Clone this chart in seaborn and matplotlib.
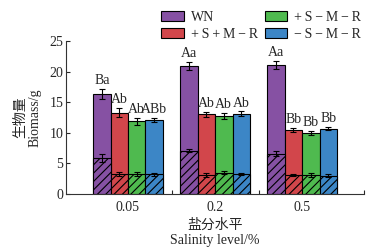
import matplotlib
matplotlib.use("Agg")
import matplotlib.pyplot as plt
import seaborn as sns
import pandas as pd
import numpy as np

salinity = ["0.05", "0.2", "0.5"]
treatments = ["WN", "+\u2009S\u2009+\u2009M\u2009−\u2009R", "+\u2009S\u2009−\u2009M\u2009−\u2009R", "−\u2009S\u2009−\u2009M\u2009−\u2009R"]
colors = ["#8651a3", "#d2464b", "#4fba4f", "#3c86c6"]

# total biomass per treatment for each salinity
total_wn = [16.4, 20.9, 21.1]
total_ssmr = [13.3, 13.0, 10.5]
total_smr = [11.9, 12.7, 10.0]
total_nsmr = [12.1, 13.1, 10.7]
total_err_wn = [0.8, 0.7, 0.6]
total_err_ssmr = [0.7, 0.4, 0.3]
total_err_smr = [0.6, 0.5, 0.3]
total_err_nsmr = [0.4, 0.4, 0.3]

# hatched (lower) portion
low_wn = [5.9, 7.1, 6.6]
low_ssmr = [3.3, 3.1, 3.1]
low_smr = [3.3, 3.5, 3.1]
low_nsmr = [3.2, 3.3, 3.0]
low_err_wn = [0.6, 0.3, 0.4]
low_err_ssmr = [0.3, 0.3, 0.2]
low_err_smr = [0.3, 0.3, 0.3]
low_err_nsmr = [0.2, 0.2, 0.3]

letters_wn = ["Ba", "Aa", "Aa"]
letters_ssmr = ["Ab", "Ab", "Bb"]
letters_smr = ["Ab", "Ab", "Bb"]
letters_nsmr = ["ABb", "Ab", "Bb"]

totals = [total_wn, total_ssmr, total_smr, total_nsmr]
total_errs = [total_err_wn, total_err_ssmr, total_err_smr, total_err_nsmr]
lows = [low_wn, low_ssmr, low_smr, low_nsmr]
low_errs = [low_err_wn, low_err_ssmr, low_err_smr, low_err_nsmr]
letters = [letters_wn, letters_ssmr, letters_smr, letters_nsmr]

rows = []
for t, tot, lo in zip(treatments, totals, lows):
    for s, a, b in zip(salinity, tot, lo):
        rows.append({"salinity": s, "treatment": t, "total": a, "low": b})
df = pd.DataFrame(rows)

sns.set_style("ticks")
plt.rcParams["font.family"] = ["Liberation Serif", "DejaVu Sans", "Noto Sans CJK SC"]
plt.rcParams["hatch.linewidth"] = 0.8

fig = plt.figure(figsize=(3.8, 2.5), dpi=100)
ax = fig.add_axes([0.174, 0.224, 0.784, 0.612])

pal = dict(zip(treatments, colors))
sns.barplot(data=df, x="salinity", y="total", hue="treatment", hue_order=treatments,
            order=salinity, palette=pal, edgecolor="black", linewidth=0.8,
            width=0.8, gap=0, ax=ax, errorbar=None, saturation=1)
sns.barplot(data=df, x="salinity", y="low", hue="treatment", hue_order=treatments,
            order=salinity, palette=pal, edgecolor="black", linewidth=0.8,
            width=0.8, gap=0, ax=ax, errorbar=None, saturation=1, legend=False)

conts = ax.containers
top_conts = conts[:4]
low_conts = conts[4:8]
for c in low_conts:
    for p in c:
        p.set_hatch("////")

for i, c in enumerate(top_conts):
    for j, p in enumerate(c):
        xc = p.get_x() + p.get_width() / 2
        ax.errorbar(xc, totals[i][j], yerr=total_errs[i][j], fmt="none",
                    ecolor="black", elinewidth=0.8, capsize=2.5, capthick=0.8, zorder=5)
        ax.text(xc, totals[i][j] + total_errs[i][j] + 0.3, letters[i][j],
                ha="center", va="bottom", fontsize=10)
for i, c in enumerate(low_conts):
    for j, p in enumerate(c):
        xc = p.get_x() + p.get_width() / 2
        ax.errorbar(xc, lows[i][j], yerr=low_errs[i][j], fmt="none",
                    ecolor="black", elinewidth=0.8, capsize=2.5, capthick=0.8, zorder=5)

ax.set_ylim(0, 25)
ax.set_yticks([0, 5, 10, 15, 20, 25])
ax.set_xlim(-0.71, 2.71)
ax.tick_params(axis="y", direction="in", length=3, width=0.8, labelsize=10, pad=2)
ax.tick_params(axis="x", which="major", length=0, labelsize=10, pad=5)
ax.set_xticks([0.5, 1.5, 2.71], minor=True)
ax.tick_params(axis="x", which="minor", direction="in", length=3, width=0.8)
for side in ["top", "right"]:
    ax.spines[side].set_visible(False)
for side in ["left", "bottom"]:
    ax.spines[side].set_linewidth(0.8)
    ax.spines[side].set_color("#333333")

ax.set_ylabel("生物量\nBiomass/g", fontsize=10, labelpad=6, linespacing=1.1)
ax.set_xlabel("盐分水平\nSalinity level/%", fontsize=10, labelpad=3, linespacing=1.3)

leg = ax.legend(ncol=2, loc="lower left", bbox_to_anchor=(0.32, 1.0), frameon=False,
                fontsize=10, handlelength=1.6, handleheight=0.75, columnspacing=0.5,
                handletextpad=0.5, labelspacing=0.3, borderaxespad=0, borderpad=0)
for h in leg.legend_handles:
    h.set_edgecolor("black")
    h.set_linewidth(0.8)

fig.savefig("out.png", dpi=100)
